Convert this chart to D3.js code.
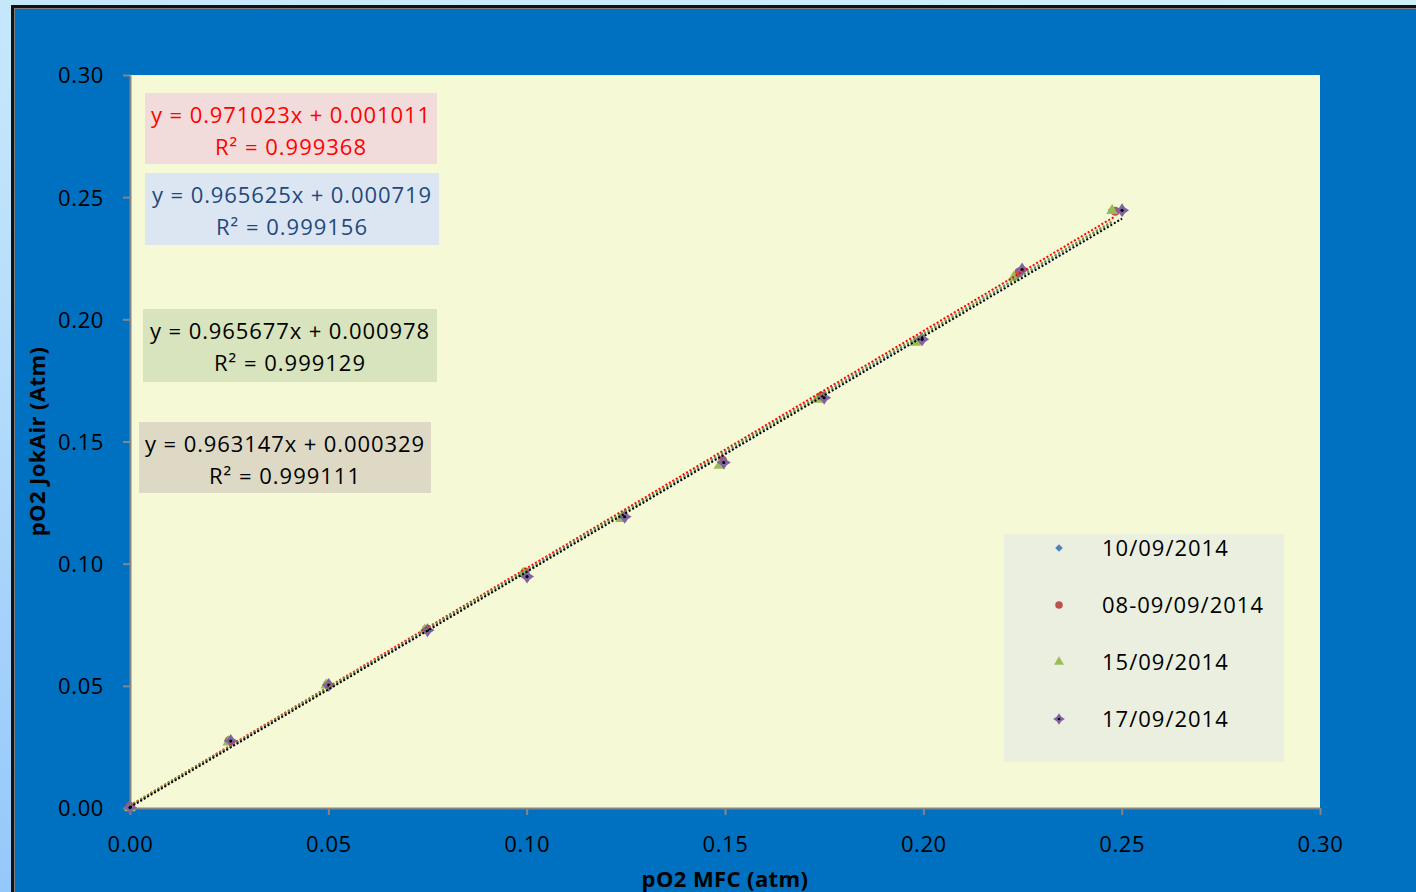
<!DOCTYPE html>
<html>
<head>
<meta charset="utf-8">
<script src="https://cdn.jsdelivr.net/npm/d3@7"></script>
<style>
    html, body { margin: 0; padding: 0; overflow: hidden; }
    svg { display: block; }
</style>
</head>
<body>
<svg id="chart" width="1416" height="892"></svg>
<script>

// Series names (legend)
const seriesNames = ["10/09/2014", "08-09/09/2014", "15/09/2014", "17/09/2014"]

// pO2 MFC (atm) per series
const xA = [0, 0.0249, 0.0497, 0.0746, 0.0994, 0.1243, 0.1491, 0.1740, 0.1988, 0.2237, 0.2476]
const xB = [0, 0.0250, 0.0498, 0.0747, 0.0996, 0.1245, 0.1494, 0.1743, 0.1992, 0.2241, 0.2484]
const xC = [0, 0.0248, 0.0495, 0.0743, 0.0991, 0.1238, 0.1486, 0.1733, 0.1980, 0.2228, 0.2476]
const xD = [0, 0.0254, 0.0501, 0.0750, 0.1001, 0.1247, 0.1497, 0.1750, 0.1997, 0.2249, 0.2501]

// pO2 JokAir (Atm) per series
const yA = [0.0004, 0.0277, 0.0505, 0.0729, 0.0962, 0.1195, 0.1418, 0.1682, 0.1911, 0.2180, 0.2446]
const yB = [0.0006, 0.0276, 0.0506, 0.0731, 0.0966, 0.1192, 0.1424, 0.1686, 0.1915, 0.2193, 0.2442]
const yC = [0.0001, 0.0270, 0.0503, 0.0727, 0.0960, 0.1184, 0.1402, 0.1672, 0.1906, 0.2172, 0.2445]
const yD = [0.0002, 0.0274, 0.0503, 0.0728, 0.0947, 0.1192, 0.1414, 0.1679, 0.1918, 0.2204, 0.2446]

// Linear trendlines (Excel labels)
const slopes = [0.965625, 0.971023, 0.965677, 0.963147]
const intercepts = [0.000719, 0.001011, 0.000978, 0.000329]
const rSquared = [0.999156, 0.999368, 0.999129, 0.999111]

// Tick labels
const xTicks = [0, 0.05, 0.10, 0.15, 0.20, 0.25, 0.30]
const yTicks = [0, 0.05, 0.10, 0.15, 0.20, 0.25, 0.30]

const seriesX = [xA, xB, xC, xD]
const seriesY = [yA, yB, yC, yD]

const markerColors = ["#4F81BD", "#C0504D", "#9BBB59", "#8064A2"]
const trendColors = ["#4F81BD", "#FF0000", "#77933C", "#000000"]
const fontFamily = "'Open Sans', 'Noto Sans', sans-serif"

let svg = d3.select("#chart")

// Page background gradient
let defs = svg.append("defs")
let grad = defs.append("linearGradient")
    .attr("id", "pageGrad")
    .attr("x1", "1").attr("y1", "0").attr("x2", "0").attr("y2", "1")
grad.append("stop").attr("offset", "0%").attr("stop-color", "#CFF1F8")
grad.append("stop").attr("offset", "55%").attr("stop-color", "#C4E6FB")
grad.append("stop").attr("offset", "100%").attr("stop-color", "#95C8FA")

svg.append("rect")
    .attr("width", 1416).attr("height", 892)
    .attr("fill", "url(#pageGrad)")

// Chart area frame (runs off the right and bottom edges)
svg.append("rect")
    .attr("x", 12.5).attr("y", 6.5)
    .attr("width", 1430).attr("height", 900)
    .attr("fill", "#0070C0")
    .attr("stroke", "#111111")
    .attr("stroke-width", 3)
svg.append("rect")
    .attr("x", 14.5).attr("y", 8.5)
    .attr("width", 1430).attr("height", 900)
    .attr("fill", "none")
    .attr("stroke", "#7F7F7F")
    .attr("stroke-width", 1)

// Scales
let x = d3.scaleLinear().domain([0, 0.30]).range([130, 1320])
let y = d3.scaleLinear().domain([0, 0.30]).range([808, 75])

// Plot area
svg.append("rect")
    .attr("x", x(0)).attr("y", y(0.30))
    .attr("width", x(0.30) - x(0)).attr("height", y(0) - y(0.30))
    .attr("fill", "#F5F9D6")

// Axes
let xAxis = svg.append("g")
    .attr("transform", "translate(0," + y(0) + ")")
    .call(d3.axisBottom(x).tickValues(xTicks).tickFormat(d3.format(".2f")).tickSizeInner(7).tickSizeOuter(0).tickPadding(21))
let yAxis = svg.append("g")
    .attr("transform", "translate(" + x(0) + ",0)")
    .call(d3.axisLeft(y).tickValues(yTicks).tickFormat(d3.format(".2f")).tickSizeInner(7).tickSizeOuter(0).tickPadding(19))

for (let axis of [xAxis, yAxis]) {
    axis.select(".domain").attr("stroke", "#868686").attr("stroke-width", 2)
    axis.selectAll(".tick line").attr("stroke", "#868686").attr("stroke-width", 2)
    axis.selectAll(".tick text")
        .attr("fill", "#000000")
        .style("font-family", fontFamily)
        .style("font-size", "22px")
        .style("letter-spacing", "0.6px")
}
yAxis.selectAll(".tick text").attr("dy", "0.36em")

// Axis titles
svg.append("text")
    .attr("x", (x(0) + x(0.30)) / 2)
    .attr("y", 887)
    .attr("text-anchor", "middle")
    .style("font-family", fontFamily)
    .style("font-size", "22px")
    .style("font-weight", "bold")
    .style("letter-spacing", "0.4px")
    .text("pO2 MFC (atm)")

svg.append("text")
    .attr("transform", "translate(45," + ((y(0) + y(0.30)) / 2) + ") rotate(-90)")
    .attr("text-anchor", "middle")
    .style("font-family", fontFamily)
    .style("font-size", "22px")
    .style("font-weight", "bold")
    .style("letter-spacing", "0.4px")
    .text("pO2 JokAir (Atm)")

// Marker shapes per series
function drawMarker(g, seriesIndex, cx, cy, scale) {
    let color = markerColors[seriesIndex]
    if (seriesIndex == 0) {
        g.append("path")
            .attr("d", d3.symbol().type(d3.symbolSquare).size(40 * scale)())
            .attr("transform", "translate(" + cx + "," + cy + ") rotate(45)")
            .attr("fill", color)
    } else if (seriesIndex == 1) {
        g.append("circle")
            .attr("cx", cx).attr("cy", cy).attr("r", 4.5 * Math.sqrt(scale))
            .attr("fill", color)
    } else if (seriesIndex == 2) {
        g.append("path")
            .attr("d", d3.symbol().type(d3.symbolTriangle).size(60 * scale)())
            .attr("transform", "translate(" + cx + "," + cy + ")")
            .attr("fill", color)
    } else {
        let r = 7 * Math.sqrt(scale)
        let k = 0.4
        let star = d3.line()([[0, -r], [r * k, -r * k], [r, 0], [r * k, r * k], [0, r], [-r * k, r * k], [-r, 0], [-r * k, -r * k]]) + "Z"
        g.append("path")
            .attr("d", star)
            .attr("transform", "translate(" + cx + "," + cy + ")")
            .attr("fill", color)
        g.append("circle")
            .attr("cx", cx).attr("cy", cy).attr("r", 1.6 * Math.sqrt(scale))
            .attr("fill", "#000000")
    }
}

// Data points
let pointsG = svg.append("g")
for (let s = 0; s < seriesX.length; s++) {
    for (let i = 0; i < seriesX[s].length; i++) {
        drawMarker(pointsG, s, x(seriesX[s][i]), y(seriesY[s][i]), 1)
    }
}

// Trendlines (dotted), drawn from 0 to each series' max x
let trendG = svg.append("g")
for (let s = 0; s < seriesX.length; s++) {
    let x0 = d3.min(seriesX[s])
    let x1 = d3.max(seriesX[s])
    trendG.append("line")
        .attr("x1", x(x0)).attr("y1", y(slopes[s] * x0 + intercepts[s]))
        .attr("x2", x(x1)).attr("y2", y(slopes[s] * x1 + intercepts[s]))
        .attr("stroke", trendColors[s])
        .attr("stroke-width", 2)
        .attr("stroke-dasharray", "2,2")
}

// Trendline equation labels
const labelBoxes = [
    { s: 1, x: 145, y: 93, w: 292, h: 71, bg: "#F2DCDB", fg: "#FF0000" },
    { s: 0, x: 145, y: 173, w: 294, h: 72, bg: "#DCE6F2", fg: "#1F497D" },
    { s: 2, x: 143, y: 309, w: 294, h: 73, bg: "#D7E4BD", fg: "#000000" },
    { s: 3, x: 139, y: 422, w: 292, h: 71, bg: "#DDD9C4", fg: "#000000" }
]
let fmt6 = d3.format(".6f")
for (let box of labelBoxes) {
    let g = svg.append("g")
    g.append("rect")
        .attr("x", box.x).attr("y", box.y)
        .attr("width", box.w).attr("height", box.h)
        .attr("fill", box.bg)
    g.append("text")
        .attr("x", box.x + box.w / 2).attr("y", box.y + 22)
        .attr("dy", "0.36em")
        .attr("text-anchor", "middle")
        .attr("fill", box.fg)
        .style("font-family", fontFamily)
        .style("font-size", "22px")
        .style("letter-spacing", "0.9px")
        .text("y = " + fmt6(slopes[box.s]) + "x + " + fmt6(intercepts[box.s]))
    g.append("text")
        .attr("x", box.x + box.w / 2).attr("y", box.y + 54)
        .attr("dy", "0.36em")
        .attr("text-anchor", "middle")
        .attr("fill", box.fg)
        .style("font-family", fontFamily)
        .style("font-size", "22px")
        .style("letter-spacing", "1px")
        .text("R² = " + fmt6(rSquared[box.s]))
}

// Legend
let legendG = svg.append("g")
legendG.append("rect")
    .attr("x", 1004).attr("y", 534)
    .attr("width", 280).attr("height", 228)
    .attr("fill", "#EBEFDF")
for (let s = 0; s < seriesNames.length; s++) {
    let ly = 548 + s * 57
    drawMarker(legendG, s, 1059, ly, 0.7)
    legendG.append("text")
        .attr("x", 1102).attr("y", ly)
        .attr("dy", "0.36em")
        .style("font-family", fontFamily)
        .style("font-size", "22px")
        .style("letter-spacing", "1px")
        .attr("fill", "#000000")
        .text(seriesNames[s])
}

</script>
</body>
</html>
